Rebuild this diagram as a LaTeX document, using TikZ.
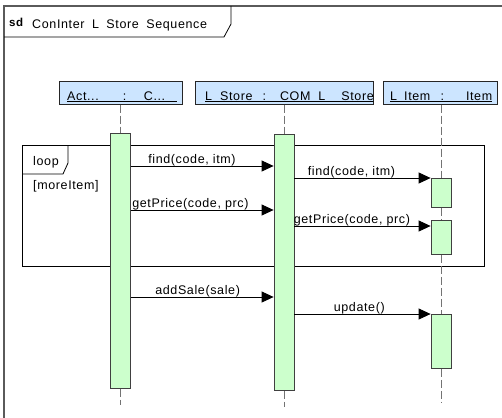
\documentclass[tikz,border=0pt]{standalone}
\usepackage{fontspec}
\setmainfont{Liberation Sans}[LetterSpace=5]
\usetikzlibrary{arrows.meta}
\definecolor{headblue}{RGB}{204,229,255}
\definecolor{actgreen}{RGB}{204,255,204}
\definecolor{framegray}{RGB}{90,90,90}
\tikzset{
  umltext/.style={font=\fontsize{12.5}{14}\selectfont, inner sep=0pt},
  lifehead/.style={rectangle, draw=black!85, fill=headblue, line width=1pt, inner sep=0pt},
  actbox/.style={rectangle, draw=black!75, fill=actgreen, line width=0.8pt,
                 minimum width=20pt, inner sep=0pt, anchor=north},
  lifeline/.style={draw=black!55, line width=0.8pt, dash pattern=on 8pt off 3pt},
  msgarrow/.style={-{Triangle[length=12pt,width=11pt]}, line width=0.8pt, black},
  msglabel/.style={umltext, anchor=base west, yshift=3pt},
  fragline/.style={black, line width=0.8pt},
}
\begin{document}
\begin{tikzpicture}[x=1pt,y=-1pt]
\clip (0,0) rectangle (502,417);
\fill[white] (0,0) rectangle (502,417);
\draw[framegray, line width=1.6pt] (4,430) |- (520,6);
\draw[fragline] (4,37) -- (224,37) -- (231,24) -- (231,6);
\node[font=\fontsize{11.5}{13}\selectfont\bfseries, anchor=base west, inner sep=0pt] (sd) at (9,27) {sd};
\node[umltext, anchor=base west] (title) at (32,29)
  {ConInter\hspace{7.5pt}L\hspace{7.5pt}Store\hspace{7.5pt}Sequence};

\draw[fragline] (22,145) rectangle (484,266);
\draw[fragline] (22,174) -- (63,174) -- (68,163) -- (68,145);
\node[umltext, anchor=base west] (looplbl) at (33,165) {loop};
\node[umltext, anchor=base west] (guard) at (33,189) {[moreItem]};

\node[lifehead, minimum width=123pt, minimum height=22pt] (h1) at (120.5,93) {};
\node[lifehead, minimum width=178pt, minimum height=22pt] (h2) at (284,93) {};
\node[lifehead, minimum width=114pt, minimum height=22pt] (h3) at (440,93) {};
\node[umltext, anchor=base west] (t1) at (67,100)
  {\underline{\makebox[110pt][l]{Act...\hspace{24pt}:\hfill C...\hspace*{12pt}}}};
\begin{scope}
\clip (h2.north west) rectangle (h2.south east);
\node[umltext, anchor=base west] (t2) at (205,100)
  {\underline{L\hspace{8pt}Store\hspace{10pt}:\hspace{14pt}COM\hspace{8pt}L\hspace{16pt}Store}};
\end{scope}
\node[umltext, anchor=base west] (t3) at (390,100)
  {\underline{\makebox[102pt][l]{L\hspace{7pt}Item\hfill:\hspace{22pt}Item}}};

\node[actbox, minimum height=255pt] (a1) at (120.5,133) {};
\node[actbox, minimum height=256pt] (a2) at (284,134) {};
\node[actbox, minimum height=29pt] (b1) at (441,178) {};
\node[actbox, minimum height=34pt] (b2) at (441,220) {};
\node[actbox, minimum height=54pt] (b3) at (441,314) {};
\coordinate (e1) at (120.5,405);
\coordinate (e2) at (284,407);
\coordinate (e3) at (441,403);

\draw[lifeline] (a1.north |- h1.south) -- (a1.north);
\draw[lifeline] (a1.south) -- (e1);
\draw[lifeline] (a2.north |- h2.south) -- (a2.north);
\draw[lifeline] (a2.south) -- (e2);
\draw[lifeline] (b1.north |- h3.south) -- (b1.north);
\draw[lifeline] (b1.south) -- (b2.north);
\draw[lifeline] (b2.south) -- (b3.north);
\draw[lifeline] (b3.south) -- (e3);

\draw[msgarrow] (a1.east |- 0,166) -- node[msglabel, pos=0, xshift=17pt] {find(code, itm)} (a2.west |- 0,166);
\draw[msgarrow] (a1.east |- 0,210) -- node[msglabel, pos=0, xshift=1pt] {getPrice(code, prc)} (a2.west |- 0,210);
\draw[msgarrow] (a2.east |- b1.north west) -- node[msglabel, pos=0, xshift=13pt] {find(code, itm)} (b1.north west);
\draw[msgarrow] (a2.east |- 0,226) -- node[msglabel, pos=0, xshift=-1pt] {getPrice(code, prc)} (b2.west |- 0,226);
\draw[msgarrow] (a1.east |- 0,297) -- node[msglabel, pos=0, xshift=24pt] {addSale(sale)} (a2.west |- 0,297);
\draw[msgarrow] (a2.east |- b3.north west) -- node[msglabel, pos=0, xshift=39pt] {update()} (b3.north west);
\end{tikzpicture}
\end{document}
